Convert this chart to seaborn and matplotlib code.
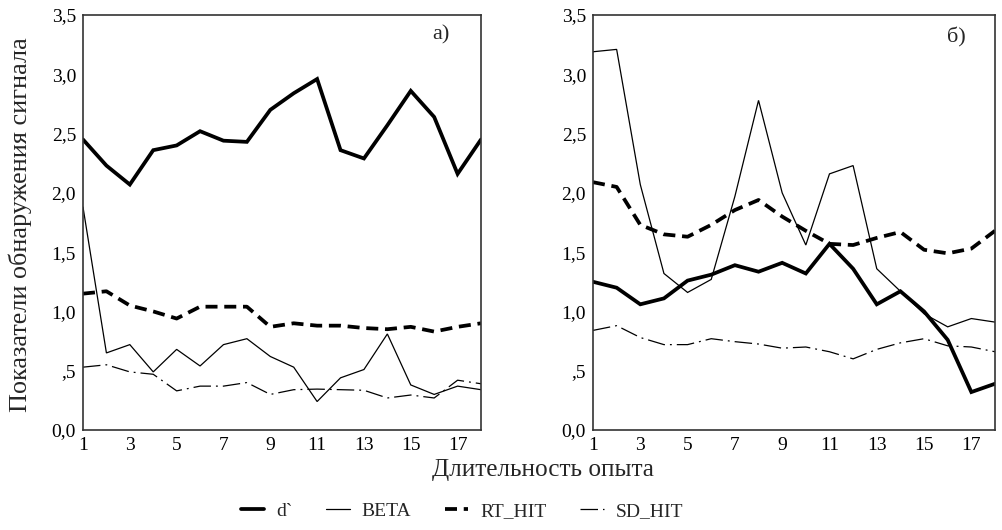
import matplotlib
matplotlib.use("Agg")
import matplotlib.pyplot as plt
import seaborn as sns
import pandas as pd
import numpy as np

trials = list(range(1, 19))

# Panel a)
a_dprime = [2.45, 2.23, 2.07, 2.36, 2.40, 2.52, 2.44, 2.43, 2.70, 2.84, 2.96, 2.36, 2.29, 2.57, 2.86, 2.64, 2.16, 2.45]
a_beta = [1.88, 0.65, 0.72, 0.49, 0.68, 0.54, 0.72, 0.77, 0.62, 0.53, 0.24, 0.44, 0.51, 0.81, 0.38, 0.30, 0.37, 0.34]
a_rt = [1.15, 1.17, 1.05, 1.00, 0.94, 1.04, 1.04, 1.04, 0.87, 0.90, 0.88, 0.88, 0.86, 0.85, 0.87, 0.83, 0.87, 0.90]
a_sd = [0.53, 0.55, 0.49, 0.47, 0.33, 0.37, 0.37, 0.40, 0.30, 0.34, 0.345, 0.34, 0.335, 0.27, 0.295, 0.27, 0.42, 0.39]

# Panel б)
b_dprime = [1.25, 1.20, 1.06, 1.11, 1.26, 1.31, 1.39, 1.335, 1.41, 1.32, 1.57, 1.36, 1.06, 1.17, 1.00, 0.76, 0.32, 0.39]
b_beta = [3.19, 3.21, 2.07, 1.32, 1.16, 1.27, 1.97, 2.78, 2.00, 1.56, 2.16, 2.23, 1.36, 1.17, 0.98, 0.87, 0.94, 0.91]
b_rt = [2.09, 2.05, 1.73, 1.65, 1.63, 1.73, 1.855, 1.94, 1.80, 1.68, 1.57, 1.56, 1.62, 1.67, 1.52, 1.49, 1.53, 1.68]
b_sd = [0.84, 0.88, 0.78, 0.72, 0.72, 0.77, 0.745, 0.725, 0.69, 0.70, 0.66, 0.60, 0.68, 0.735, 0.77, 0.71, 0.70, 0.66]

series_names = ["d`", "BETA", "RT_HIT", "SD_HIT"]
panel_labels = ["а)", "б)"]
y_ticks = [0.0, 0.5, 1.0, 1.5, 2.0, 2.5, 3.0, 3.5]
y_ticklabels = ["0,0", ",5", "1,0", "1,5", "2,0", "2,5", "3,0", "3,5"]

sns.set_theme(style="white")
plt.rcParams["font.family"] = ["Liberation Serif", "DejaVu Serif"]

styles = {
    "d`": dict(lw=2.7, dashes=(None, None)),
    "BETA": dict(lw=0.9, dashes=(None, None)),
    "RT_HIT": dict(lw=2.7, dashes=(3.2, 1.8)),
    "SD_HIT": dict(lw=0.9, dashes=(14, 4, 1.5, 4)),
}

fig = plt.figure(figsize=(10.03, 5.30), dpi=100)
ax1 = fig.add_axes([83 / 1003, 1 - 430 / 530, 398 / 1003, 415 / 530])
ax2 = fig.add_axes([593 / 1003, 1 - 430 / 530, 402 / 1003, 415 / 530])

panels = [(ax1, [a_dprime, a_beta, a_rt, a_sd]), (ax2, [b_dprime, b_beta, b_rt, b_sd])]
for ax, data in panels:
    for name, vals in zip(series_names, data):
        df = pd.DataFrame({"x": trials, "y": vals})
        st = styles[name]
        sns.lineplot(data=df, x="x", y="y", ax=ax, color="black", linewidth=st["lw"], label=name)
        line = ax.get_lines()[-1]
        if st["dashes"][0] is not None:
            line.set_dashes(st["dashes"])
        line.set_solid_joinstyle("miter")
    ax.set_xlim(1, 18)
    ax.set_ylim(0, 3.5)
    ax.set_xticks(trials)
    ax.set_xticklabels([str(t) if t % 2 == 1 else "" for t in trials])
    ax.set_yticks(y_ticks)
    ax.set_yticklabels(y_ticklabels)
    ax.tick_params(axis="both", which="major", length=3, width=2, color="black",
                   labelsize=14, direction="out", pad=2, labelcolor="black")
    for sp in ax.spines.values():
        sp.set_visible(True)
        sp.set_color("#333333")
        sp.set_linewidth(1.2)
    ax.set_xlabel("")
    ax.set_ylabel("")
    ax.get_legend().remove()

handles = ax1.get_lines()[:4]
ax1.text(0.90, 0.952, panel_labels[0], transform=ax1.transAxes, fontsize=16, ha="center", va="center")
ax2.text(0.903, 0.945, panel_labels[1], transform=ax2.transAxes, fontsize=16, ha="center", va="center")

fig.text(20 / 1003, 1 - 225 / 530, "Показатели обнаружения сигнала", rotation=90,
         fontsize=18.8, ha="center", va="center")
fig.text(543 / 1003, 1 - 470 / 530, "Длительность опыта", fontsize=18.2, ha="center", va="center")

fig.legend(handles, series_names, loc="center", bbox_to_anchor=(462 / 1003, 1 - 511 / 530),
           ncol=4, frameon=False, fontsize=14, handlelength=1.2, columnspacing=1.75,
           handletextpad=0.6, borderpad=0, borderaxespad=0)

fig.savefig("out.png", dpi=100, facecolor="white")
